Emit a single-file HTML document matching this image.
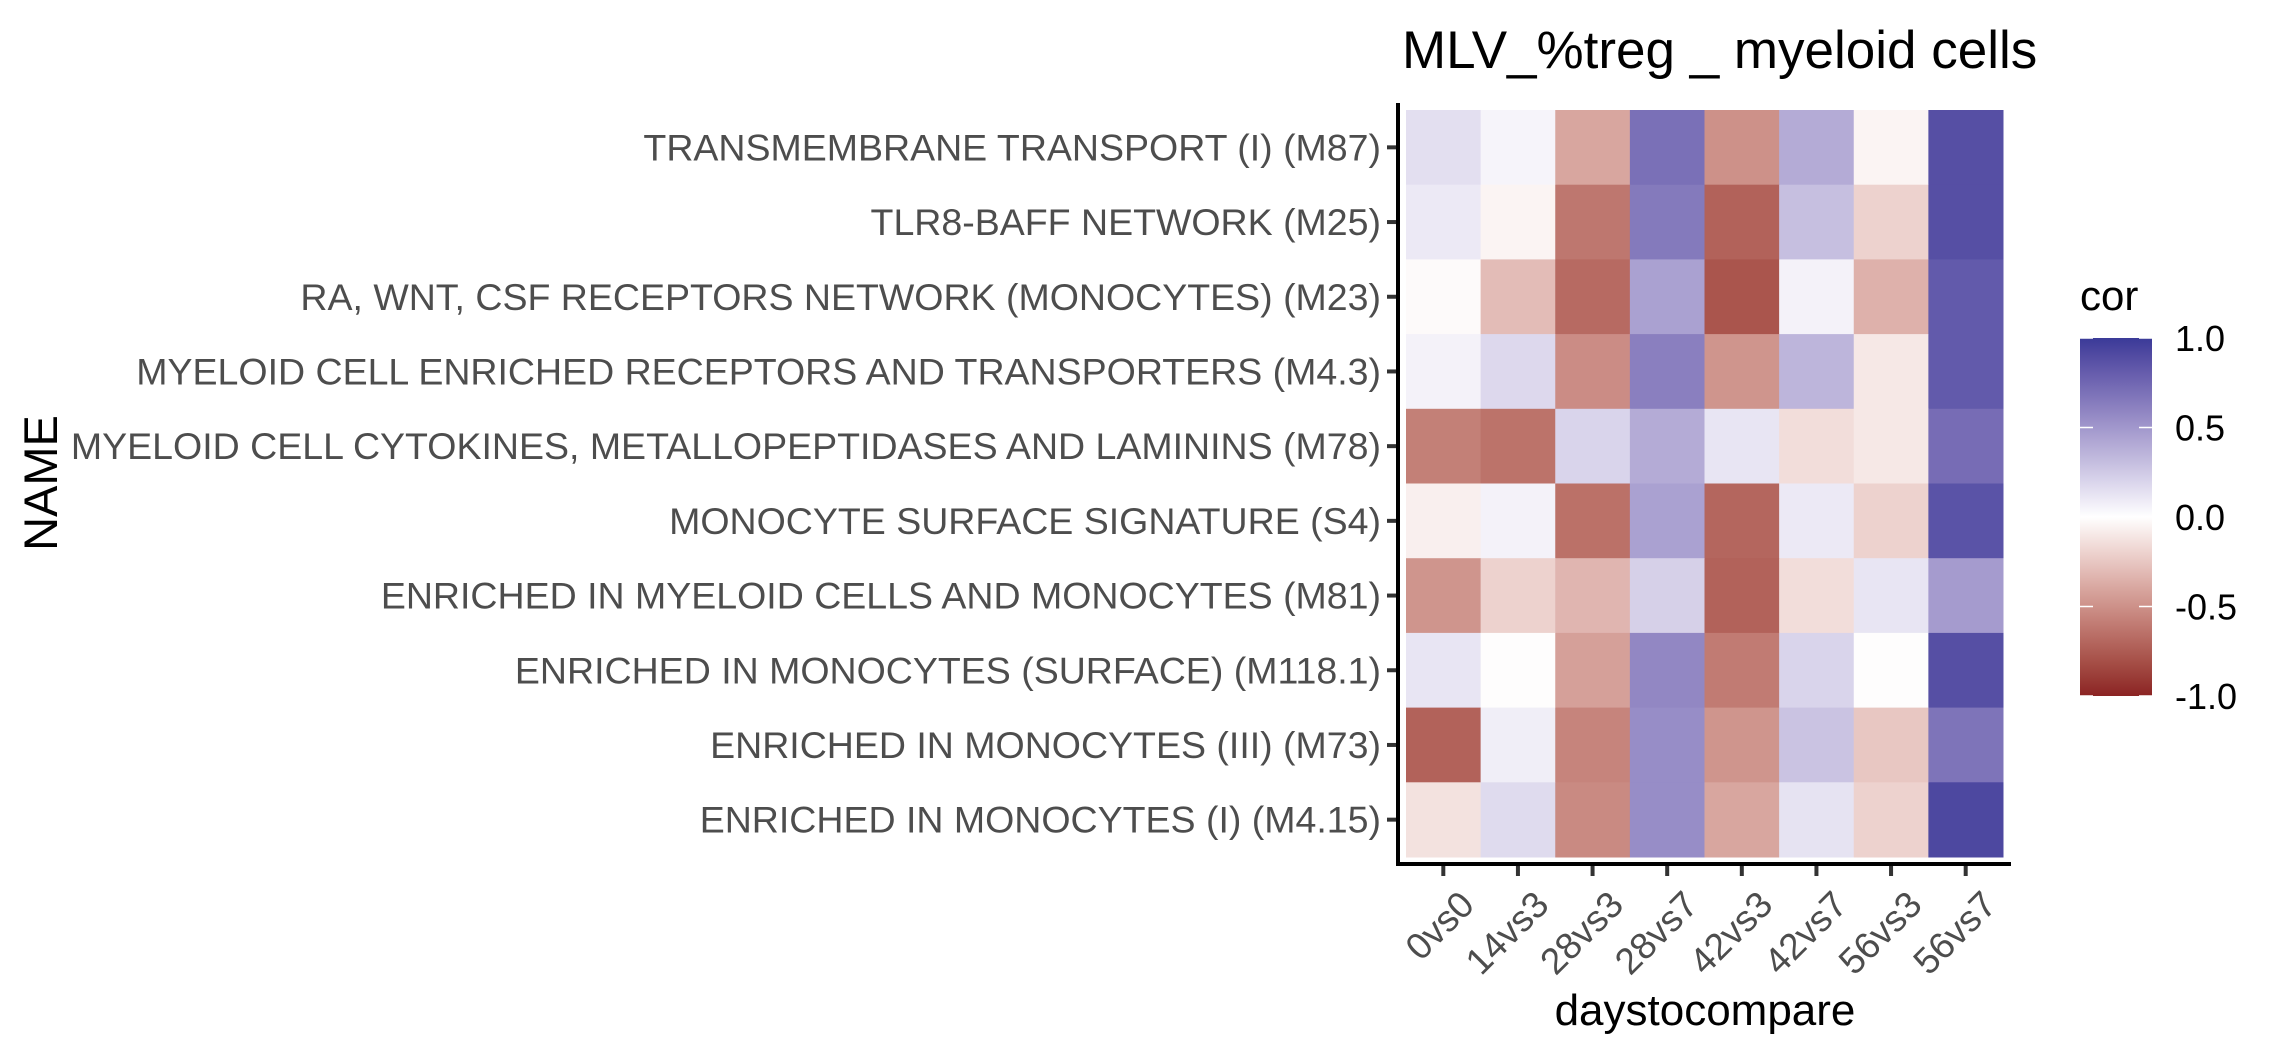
<!DOCTYPE html>
<html><head><meta charset="utf-8">
<style>
html,body{margin:0;padding:0;background:#fff;}
svg{display:block;font-family:"Liberation Sans",Arial,sans-serif;}
</style></head>
<body>
<svg id="chart" width="2284" height="1062" viewBox="0 0 2284 1062" xmlns="http://www.w3.org/2000/svg">
<defs>
<linearGradient id="lg" x1="0" y1="1" x2="0" y2="0"></linearGradient>
</defs>
<text x="1402" y="68" font-size="53" fill="#000">MLV_%treg _ myeloid cells</text>
<text transform="translate(57,483) rotate(-90)" text-anchor="middle" font-size="47" fill="#000">NAME</text>
<text x="1705" y="1025" text-anchor="middle" font-size="44" fill="#000">daystocompare</text>
<g id="cells"></g>
<g id="yt"></g>
<g id="xt"></g>
<line x1="1398" y1="103" x2="1398" y2="866" stroke="#000" stroke-width="4"/>
<line x1="1396" y1="864" x2="2011" y2="864" stroke="#000" stroke-width="4"/>
<g id="legend">
<text x="2080" y="310" font-size="42" fill="#000">cor</text>
<rect x="2080" y="338" width="72" height="358" fill="url(#lg)"/>
</g>
</svg>
<script>
const rowNames = ["TRANSMEMBRANE TRANSPORT (I) (M87)","TLR8-BAFF NETWORK (M25)","RA, WNT, CSF RECEPTORS NETWORK (MONOCYTES) (M23)","MYELOID CELL ENRICHED RECEPTORS AND TRANSPORTERS (M4.3)","MYELOID CELL CYTOKINES, METALLOPEPTIDASES AND LAMININS (M78)","MONOCYTE SURFACE SIGNATURE (S4)","ENRICHED IN MYELOID CELLS AND MONOCYTES (M81)","ENRICHED IN MONOCYTES (SURFACE) (M118.1)","ENRICHED IN MONOCYTES (III) (M73)","ENRICHED IN MONOCYTES (I) (M4.15)"];
const colNames = ["0vs0","14vs3","28vs3","28vs7","42vs3","42vs7","56vs3","56vs7"];
const values = [
[0.15,0.05,-0.4,0.7,-0.5,0.4,-0.05,0.88],
[0.1,-0.05,-0.62,0.65,-0.72,0.3,-0.2,0.88],
[-0.02,-0.3,-0.68,0.45,-0.78,0.06,-0.35,0.82],
[0.06,0.18,-0.52,0.62,-0.48,0.35,-0.1,0.82],
[-0.58,-0.64,0.2,0.4,0.12,-0.15,-0.1,0.72],
[-0.07,0.06,-0.65,0.45,-0.7,0.1,-0.2,0.86],
[-0.48,-0.2,-0.33,0.22,-0.72,-0.15,0.12,0.48],
[0.12,-0.01,-0.43,0.58,-0.6,0.2,-0.01,0.88],
[-0.72,0.08,-0.56,0.55,-0.48,0.28,-0.25,0.68],
[-0.13,0.17,-0.53,0.55,-0.4,0.13,-0.2,0.92]
];
const legendTicks = [1.0,0.5,0.0,-0.5,-1.0];
const legendLabels = ["1.0","0.5","0.0","-0.5","-1.0"];

const NS="http://www.w3.org/2000/svg";
const px0=1406, px1=2003, py0=110, py1=857;
const cw=(px1-px0)/colNames.length, ch=(py1-py0)/rowNames.length;
function xPos(i){return px0+i*cw;}
function yPos(j){return py0+j*ch;}
function legY(v){return 338+(1-v)/2*358;}

function hex2rgb(h){return [parseInt(h.slice(1,3),16),parseInt(h.slice(3,5),16),parseInt(h.slice(5,7),16)];}
function s2l(c){c/=255;return c<=0.04045?c/12.92:Math.pow((c+0.055)/1.055,2.4);}
function l2s(c){c=c<=0.0031308?12.92*c:1.055*Math.pow(c,1/2.4)-0.055;return Math.max(0,Math.min(255,Math.round(c*255)));}
function toLab(h){const [r,g,b]=hex2rgb(h).map(s2l);
 let X=(0.4124*r+0.3576*g+0.1805*b)/0.95047,Y=0.2126*r+0.7152*g+0.0722*b,Z=(0.0193*r+0.1192*g+0.9505*b)/1.08883;
 const f=t=>t>0.008856?Math.cbrt(t):7.787*t+16/116;
 return [116*f(Y)-16,500*(f(X)-f(Y)),200*(f(Y)-f(Z))];}
function fromLab(L,a,b){const fy=(L+16)/116,fx=fy+a/500,fz=fy-b/200;
 const fi=t=>t**3>0.008856?t**3:(t-16/116)/7.787;
 const X=fi(fx)*0.95047,Y=fi(fy),Z=fi(fz)*1.08883;
 const r=3.2406*X-1.5372*Y-0.4986*Z,g=-0.9689*X+1.8758*Y+0.0415*Z,bb=0.0557*X-0.2040*Y+1.0570*Z;
 return "rgb("+l2s(r)+","+l2s(g)+","+l2s(bb)+")";}
const LOW=toLab("#8B2323"),MID=toLab("#FFFFFF"),HIGH=toLab("#3A3A98");
function color(v){v=Math.max(-1,Math.min(1,v));const t=Math.abs(v),e=v<0?LOW:HIGH;
 return fromLab(MID[0]+(e[0]-MID[0])*t,MID[1]+(e[1]-MID[1])*t,MID[2]+(e[2]-MID[2])*t);}

const cells=document.getElementById('cells');
values.forEach((row,j)=>row.forEach((v,i)=>{
 const r=document.createElementNS(NS,'rect');
 r.setAttribute('x',xPos(i));r.setAttribute('y',yPos(j));
 r.setAttribute('width',cw+0.5);r.setAttribute('height',ch+0.5);
 r.setAttribute('fill',color(v));
 
 
 cells.appendChild(r);
}));
const yt=document.getElementById('yt');
rowNames.forEach((n,j)=>{
 const cy=yPos(j)+ch/2;
 const l=document.createElementNS(NS,'line');
 l.setAttribute('x1',1387);l.setAttribute('x2',1396);l.setAttribute('y1',cy);l.setAttribute('y2',cy);
 l.setAttribute('stroke','#333');l.setAttribute('stroke-width',4);
 
 
 yt.appendChild(l);
 const t=document.createElementNS(NS,'text');
 t.setAttribute('x',1381);t.setAttribute('y',cy+13);t.setAttribute('text-anchor','end');
 t.setAttribute('font-size',37.5);t.setAttribute('fill','#4D4D4D');t.textContent=n;
 
 
 yt.appendChild(t);
});
const xt=document.getElementById('xt');
colNames.forEach((n,i)=>{
 const cx=xPos(i)+cw/2;
 const l=document.createElementNS(NS,'line');
 l.setAttribute('x1',cx);l.setAttribute('x2',cx);l.setAttribute('y1',866);l.setAttribute('y2',876);
 l.setAttribute('stroke','#333');l.setAttribute('stroke-width',4);
 
 
 xt.appendChild(l);
 const t=document.createElementNS(NS,'text');
 t.setAttribute('transform','translate('+(cx+14)+',888) rotate(-45)');
 t.setAttribute('text-anchor','end');t.setAttribute('dy','0.72em');
 t.setAttribute('font-size',37);t.setAttribute('fill','#4D4D4D');t.textContent=n;
 
 
 xt.appendChild(t);
});
const lg=document.getElementById('lg');
for(let k=0;k<=20;k++){const v=-1+k/10;const s=document.createElementNS(NS,'stop');
 s.setAttribute('offset',(k/20));s.setAttribute('stop-color',color(v));lg.appendChild(s);}
const leg=document.getElementById('legend');
legendTicks.forEach((v,k)=>{
 const y=legY(v);
 [[2080,2093],[2139,2152]].forEach(([a,b])=>{
  const l=document.createElementNS(NS,'line');
  l.setAttribute('x1',a);l.setAttribute('x2',b);l.setAttribute('y1',y);l.setAttribute('y2',y);
  l.setAttribute('stroke','#fff');l.setAttribute('stroke-width',1.5);
  
  
  leg.appendChild(l);
 });
 const t=document.createElementNS(NS,'text');
 t.setAttribute('x',2175);t.setAttribute('y',y+13);t.setAttribute('font-size',36);t.setAttribute('fill','#000');
 t.textContent=legendLabels[k];
 
 
 leg.appendChild(t);
});
</script>
</body></html>
